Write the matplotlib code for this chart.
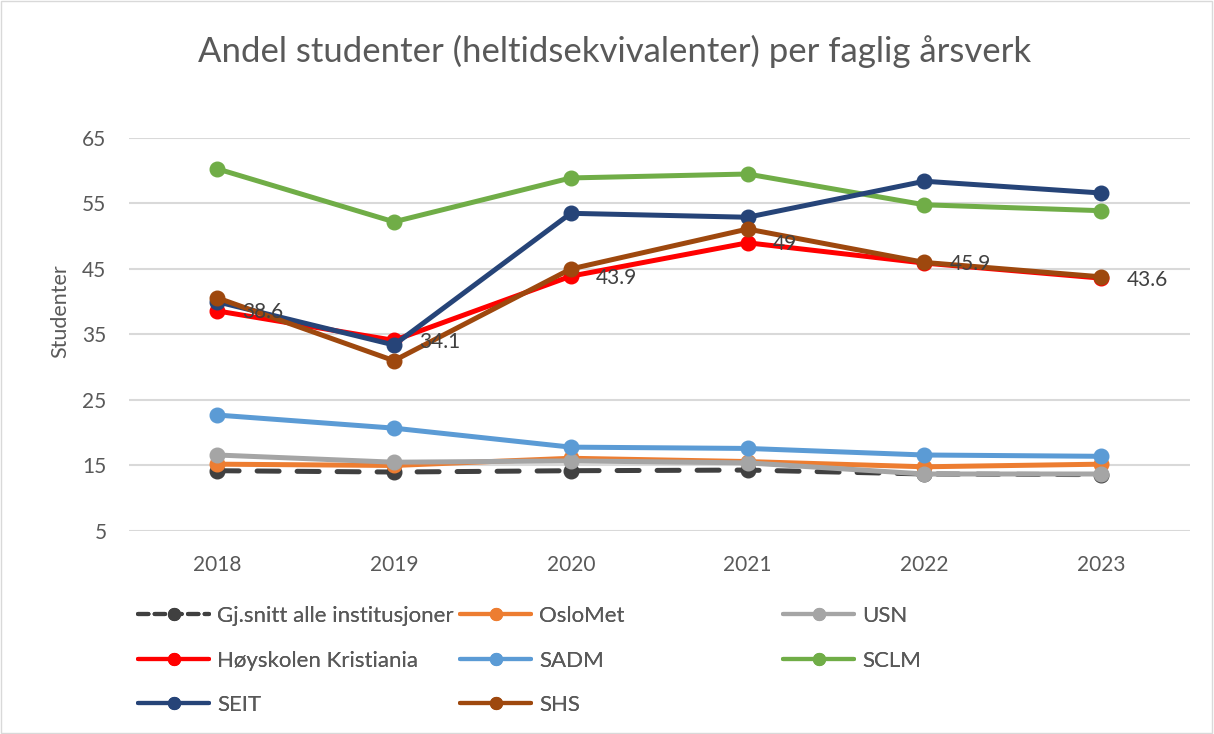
import matplotlib
matplotlib.use('Agg')
import matplotlib.pyplot as plt
from matplotlib.lines import Line2D
from matplotlib.patches import Rectangle

plt.rcParams['font.family'] = ['Lato', 'DejaVu Sans']

# data
years = ['2018', '2019', '2020', '2021', '2022', '2023']
snitt = [14.2, 14.0, 14.2, 14.3, 13.7, 13.6]
oslomet = [15.2, 15.0, 16.1, 15.6, 14.8, 15.2]
usn = [16.6, 15.5, 15.7, 15.4, 13.7, 13.7]
kristiania = [38.6, 34.1, 43.9, 49, 45.9, 43.6]
sadm = [22.7, 20.7, 17.8, 17.6, 16.6, 16.4]
sclm = [60.3, 52.2, 58.9, 59.5, 54.8, 53.9]
seit = [40.0, 33.4, 53.5, 52.9, 58.4, 56.6]
shs = [40.6, 31.0, 45.0, 51.1, 46.0, 43.8]

series = [
    ('Gj.snitt alle institusjoner', snitt, '#404040'),
    ('OsloMet', oslomet, '#ED7D31'),
    ('USN', usn, '#A5A5A5'),
    ('Høyskolen Kristiania', kristiania, '#FF0000'),
    ('SADM', sadm, '#5B9BD5'),
    ('SCLM', sclm, '#70AD47'),
    ('SEIT', seit, '#264478'),
    ('SHS', shs, '#9E480E'),
]

fig = plt.figure(figsize=(12.14, 7.34), dpi=100)
ax = fig.add_axes([0.106, 0.2766, 0.874, 0.5354])

x = list(range(len(years)))
for i, (name, vals, col) in enumerate(series):
    if i == 0:
        ax.plot(x, vals, color=col, lw=3.6, marker='o', ms=10.5,
                dashes=(4.4, 3.6), dash_capstyle='round', zorder=3)
    else:
        ax.plot(x, vals, color=col, lw=3.6, marker='o', ms=10.5,
                solid_capstyle='round', zorder=3 + i)

# data labels for Høyskolen Kristiania
for xi, v in zip(x, kristiania):
    ax.annotate(f'{v:g}', (xi, v), xytext=(18, -1), textcoords='offset points',
                ha='left', va='center', fontsize=15, color='#404040', zorder=20)

ax.set_xlim(-0.5, 5.5)
ax.set_ylim(5, 65)
ax.set_yticks(range(5, 66, 10))
ax.set_xticks(x)
ax.set_xticklabels(years)
ax.tick_params(length=0, labelsize=15, colors='#595959')
ax.tick_params(axis='x', pad=17)
ax.tick_params(axis='y', pad=16)
ax.grid(axis='y', color='#D9D9D9', lw=1.5)
ax.set_axisbelow(True)
for s in ax.spines.values():
    s.set_visible(False)
ax.set_ylabel('Studenter', fontsize=15.5, color='#595959')
ax.yaxis.set_label_coords(-0.055, 0.56)

fig.text(0.506, 0.93, 'Andel studenter (heltidsekvivalenter) per faglig årsverk',
         ha='center', va='center', fontsize=25, color='#595959')

# legend, filled row by row like Excel (3 columns)
col_x = [138 / 1214, 460 / 1214, 783 / 1214]
row_y = [1 - 616 / 734, 1 - 661 / 734, 1 - 705 / 734]
for i, (name, vals, col) in enumerate(series):
    if i == 0:
        h = Line2D([], [], color=col, lw=3, marker='o', ms=8.5,
                   dashes=(2.5, 1.5), dash_capstyle='round')
    else:
        h = Line2D([], [], color=col, lw=3, marker='o', ms=8.5,
                   solid_capstyle='round')
    leg = fig.legend(handles=[h], labels=[name], loc='center left',
                     bbox_to_anchor=(col_x[i % 3], row_y[i // 3]),
                     frameon=False, fontsize=16, labelcolor='#595959',
                     handlelength=3.2, handletextpad=0.35,
                     borderpad=0, borderaxespad=0)
    fig.add_artist(leg)

fig.patches.append(Rectangle((0.001, 0.001), 0.997, 0.997, transform=fig.transFigure,
                             fill=False, edgecolor='#D9D9D9', lw=1))

fig.savefig('out.png', dpi=100)
